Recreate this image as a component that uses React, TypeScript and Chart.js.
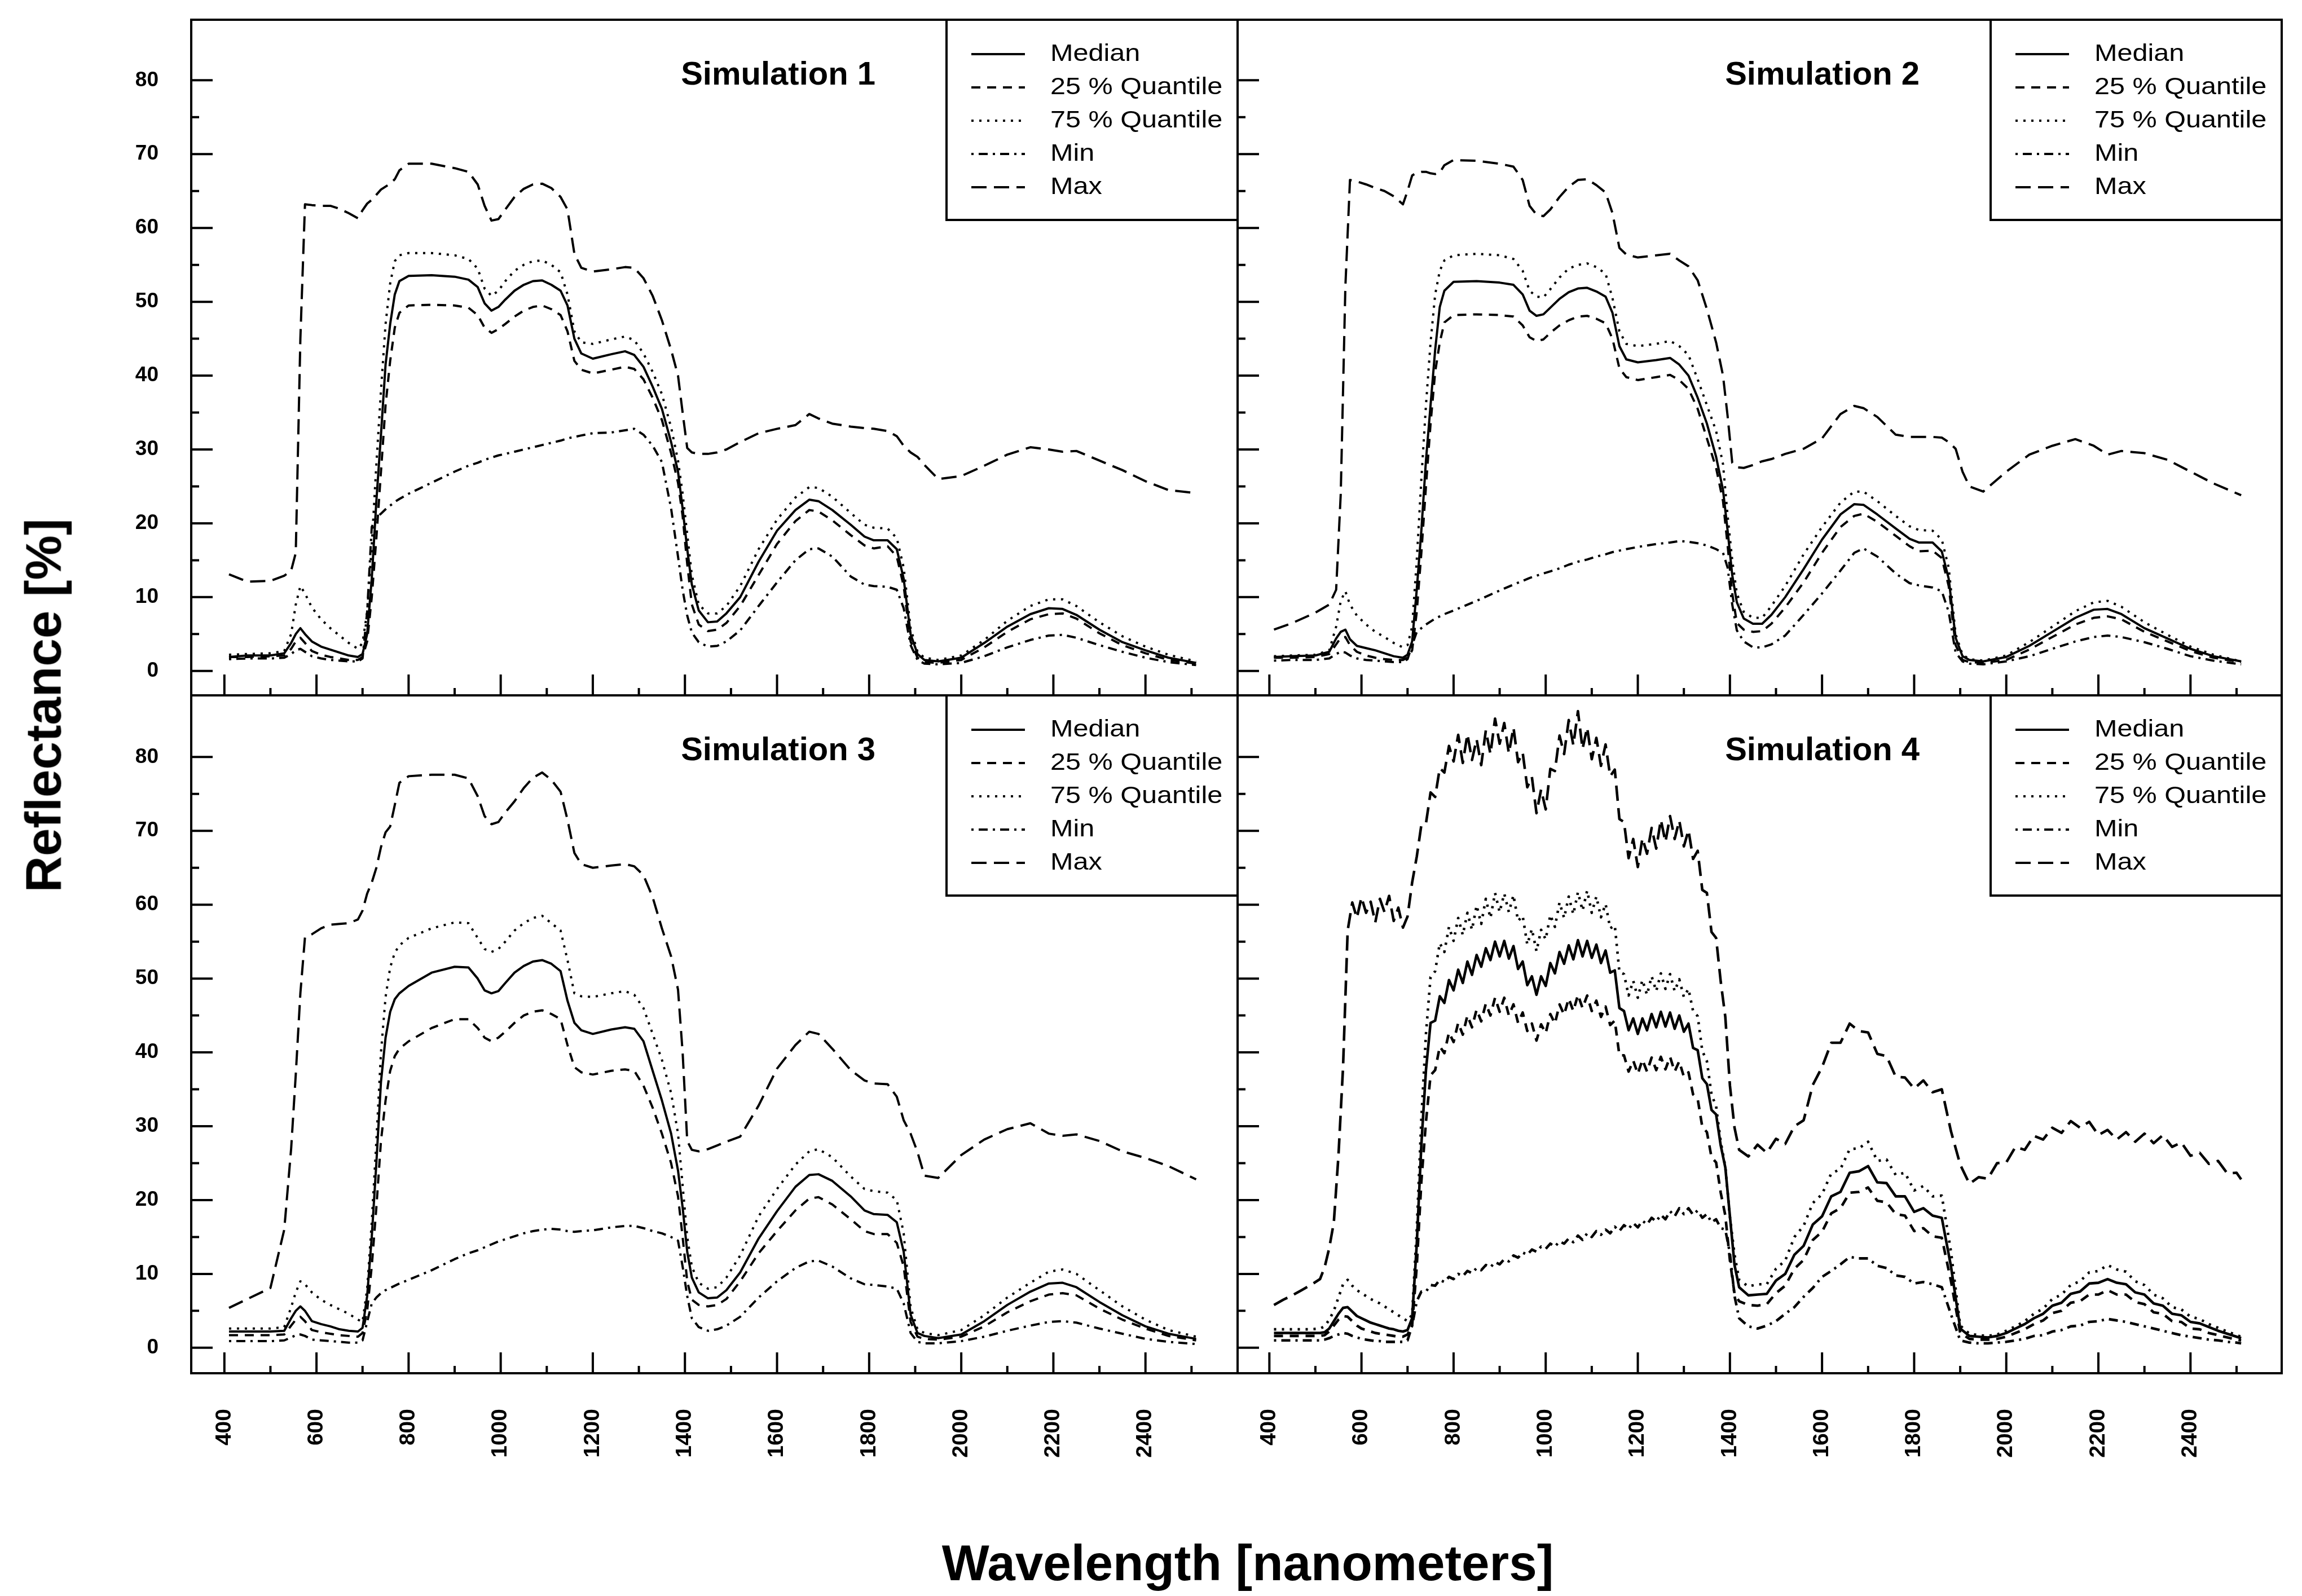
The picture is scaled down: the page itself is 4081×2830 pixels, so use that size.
import { useEffect, useRef } from 'react';
import { Chart, registerables } from 'chart.js';

Chart.register(...registerables);

const FONT = "'Liberation Sans', Arial, Helvetica, sans-serif";

// wavelengths [nm] of simulations 1-3
const wl = [
  410, 450, 500, 530, 545, 555, 565, 575, 590, 610,
  630, 650, 670, 690, 700, 710, 720, 730, 740, 750,
  760, 770, 780, 800, 850, 900, 930, 950, 965, 980,
  995, 1010, 1030, 1050, 1070, 1090, 1110, 1130, 1145, 1160,
  1175, 1200, 1240, 1270, 1290, 1310, 1330, 1350, 1370, 1385,
  1395, 1405, 1415, 1430, 1450, 1470, 1490, 1520, 1560, 1600,
  1640, 1670, 1690, 1720, 1760, 1790, 1810, 1840, 1860, 1875,
  1890, 1905, 1920, 1950, 2000, 2050, 2100, 2150, 2190, 2220,
  2250, 2300, 2350, 2400, 2450, 2510,
];

const wl4 = [
  410, 430, 450, 470, 490, 510,
  520, 530, 540, 550, 560, 570, 580, 590, 600, 610,
  620, 630, 640, 650, 660, 670, 680, 690, 700, 710,
  720, 730, 740, 750, 760, 770, 780, 790, 800, 810,
  820, 830, 840, 850, 860, 870, 880, 890, 900, 910,
  920, 930, 940, 950, 960, 970, 980, 990, 1000, 1010,
  1020, 1030, 1040, 1050, 1060, 1070, 1080, 1090, 1100, 1110,
  1120, 1130, 1140, 1150, 1160, 1170, 1180, 1190, 1200, 1210,
  1220, 1230, 1240, 1250, 1260, 1270, 1280, 1290, 1300, 1310,
  1320, 1330, 1340, 1350, 1360, 1370, 1380, 1390, 1400, 1410,
  1420,
  1440, 1460, 1480, 1500, 1520, 1540, 1560, 1580, 1600, 1620,
  1640, 1660, 1680, 1700, 1720, 1740, 1760, 1780, 1800, 1820,
  1840, 1860, 1880, 1900, 1920, 1940, 1960, 1980, 2000, 2020,
  2040, 2060, 2080, 2100, 2120, 2140, 2160, 2180, 2200, 2220,
  2240, 2260, 2280, 2300, 2320, 2340, 2360, 2380, 2400, 2420,
  2440, 2460, 2480, 2500, 2510,
];

// ---- Simulation 1 ----
const sim1Median = [
  1.9, 2.1, 2.1, 2.4, 3.8, 5.0, 5.8, 5.0, 4.0, 3.3,
  2.9, 2.5, 2.1, 1.9, 2.3, 5.0, 12.5, 23.0, 32.0, 41.5,
  47.0, 51.0, 52.8, 53.5, 53.6, 53.4, 53.0, 52.0, 49.8, 48.8,
  49.3, 50.3, 51.5, 52.3, 52.8, 52.9, 52.3, 51.5, 49.5, 45.0,
  43.0, 42.3, 42.9, 43.3, 42.8, 41.2, 38.5, 35.5, 31.0, 27.0,
  22.0, 16.5, 11.7, 8.2, 6.6, 6.7, 7.8, 10.0, 14.8, 19.0,
  21.8, 23.2, 23.0, 21.8, 19.8, 18.2, 17.7, 17.7, 16.5, 12.5,
  5.0, 2.3, 1.5, 1.3, 1.8, 3.8, 6.0, 7.7, 8.5, 8.4,
  7.6, 5.6, 3.9, 2.8, 1.8, 1.1,
];
const sim1Q25 = [
  1.9, 1.9, 2.0, 2.1, 3.0, 4.0, 4.5, 3.8, 2.7, 2.2,
  1.9, 1.7, 1.5, 1.5, 1.9, 4.0, 10.0, 18.0, 27.0, 36.0,
  42.0, 46.5, 48.5, 49.5, 49.6, 49.5, 49.2, 48.2, 46.5, 45.8,
  46.3, 47.0, 48.0, 48.8, 49.3, 49.5, 49.0, 48.2, 46.0, 42.0,
  40.8, 40.3, 40.8, 41.2, 40.9, 39.5, 37.0, 34.0, 29.5, 25.5,
  21.0, 14.5, 9.0, 6.3, 5.4, 5.6, 6.5, 8.8, 13.0, 17.2,
  20.3, 21.8, 21.6, 20.4, 18.4, 17.0, 16.6, 16.9, 15.5, 11.5,
  4.0, 1.8, 1.2, 1.1, 1.5, 3.2, 5.3, 7.0, 7.7, 7.8,
  7.1, 5.1, 3.5, 2.4, 1.5, 1.0,
];
const sim1Q75 = [
  2.2, 2.3, 2.4, 2.7, 5.0, 9.0, 11.5, 10.5, 8.6, 7.0,
  5.8, 4.8, 3.8, 3.0, 3.8, 8.0, 17.0, 28.0, 38.0, 47.0,
  52.5, 55.5, 56.3, 56.6, 56.6, 56.3, 55.8, 54.5, 51.8, 50.8,
  51.5, 52.8, 54.2, 55.0, 55.5, 55.6, 55.0, 54.0, 51.0, 46.0,
  44.5, 44.3, 44.9, 45.3, 44.8, 43.0, 40.5, 37.5, 33.0, 28.5,
  24.0, 18.5, 13.0, 9.0, 7.8, 7.8, 8.8, 11.5, 16.5, 20.5,
  23.5, 24.9, 24.8, 23.6, 21.4, 19.8, 19.4, 19.3, 18.0, 14.0,
  5.8, 2.6, 1.8, 1.5, 2.1, 4.2, 6.8, 8.8, 9.7, 9.7,
  8.8, 6.6, 4.7, 3.3, 2.2, 1.3,
];
const sim1Min = [
  1.6, 1.7, 1.7, 1.8, 2.3, 2.8, 3.0, 2.6, 2.0, 1.7,
  1.5, 1.4, 1.3, 1.3, 1.7, 8.0, 19.5, 20.8, 21.3, 21.9,
  22.4, 22.9, 23.3, 24.0, 25.5, 27.0, 27.8, 28.2, 28.6, 28.9,
  29.2, 29.4, 29.7, 30.0, 30.3, 30.6, 30.9, 31.2, 31.5, 31.7,
  31.9, 32.2, 32.3, 32.6, 32.8, 32.0, 30.5, 28.3, 22.0, 15.5,
  11.0, 7.5, 5.2, 3.9, 3.3, 3.4, 4.0, 5.5, 8.8, 12.0,
  15.0, 16.5, 16.6, 15.5, 12.8, 11.7, 11.5, 11.4, 11.0, 8.5,
  3.5, 1.5, 1.0, 0.9, 1.1, 2.0, 3.2, 4.2, 4.8, 4.9,
  4.5, 3.5, 2.6, 1.8, 1.2, 0.8,
];
const sim1Max = [
  13.1, 12.1, 12.2, 12.9, 13.6, 16.0, 45.0, 63.2, 63.1, 63.0,
  63.0, 62.6, 62.0, 61.3, 62.4, 63.3, 63.8, 64.5, 65.2, 65.6,
  66.0, 66.6, 67.8, 68.7, 68.7, 68.1, 67.6, 65.9, 63.0, 61.0,
  61.2, 62.5, 64.2, 65.3, 65.9, 66.0, 65.4, 64.2, 62.5, 56.5,
  54.6, 54.1, 54.4, 54.7, 54.6, 53.2, 50.8, 47.5, 43.5, 40.0,
  35.0, 30.2, 29.6, 29.4, 29.4, 29.6, 30.0, 31.0, 32.2, 32.8,
  33.3, 34.8, 34.2, 33.5, 33.1, 32.9, 32.8, 32.5, 31.8, 30.5,
  29.6, 29.0, 27.9, 26.0, 26.4, 27.8, 29.3, 30.3, 30.0, 29.7,
  29.8, 28.5, 27.2, 25.7, 24.5, 24.1,
];

// ---- Simulation 2 ----
const sim2Median = [
  1.9, 2.0, 2.1, 2.6, 4.4, 5.3, 5.6, 4.3, 3.4, 3.1,
  2.8, 2.4, 2.0, 1.8, 2.2, 4.0, 11.0, 19.0, 28.5, 36.0,
  43.5, 49.3, 51.5, 52.7, 52.8, 52.6, 52.3, 51.0, 48.8, 48.1,
  48.3, 49.2, 50.4, 51.3, 51.8, 51.9, 51.4, 50.7, 48.5, 44.0,
  42.2, 41.8, 42.1, 42.4, 41.5, 40.0, 37.0, 33.5, 29.0, 24.5,
  19.0, 13.0, 9.3, 7.1, 6.4, 6.4, 7.6, 10.0, 13.8, 17.8,
  21.2, 22.6, 22.5, 21.2, 19.3, 17.9, 17.4, 17.4, 16.2, 12.5,
  4.5, 2.0, 1.5, 1.3, 1.9, 3.4, 5.3, 7.2, 8.3, 8.4,
  7.7, 5.8, 4.4, 3.0, 2.0, 1.3,
];
const sim2Q25 = [
  1.8, 1.8, 1.9, 2.3, 3.6, 4.5, 4.6, 3.5, 2.6, 2.1,
  1.8, 1.6, 1.5, 1.5, 1.8, 2.8, 8.0, 16.0, 25.0, 33.5,
  40.5, 44.5, 47.2, 48.2, 48.3, 48.2, 48.0, 46.8, 45.2, 44.7,
  44.9, 45.8, 46.8, 47.5, 48.0, 48.1, 47.7, 47.1, 45.0, 41.0,
  39.8, 39.4, 39.8, 40.1, 39.4, 38.2, 35.5, 31.5, 27.5, 23.0,
  17.0, 10.5, 6.5, 5.6, 5.3, 5.4, 6.4, 8.6, 12.0, 16.0,
  19.5, 21.0, 21.3, 20.2, 18.3, 16.9, 16.2, 16.3, 15.3, 11.5,
  3.5, 1.5, 1.2, 1.1, 1.5, 2.9, 4.6, 6.3, 7.2, 7.4,
  7.0, 5.3, 4.0, 2.7, 1.8, 1.2,
];
const sim2Q75 = [
  2.0, 2.1, 2.2, 2.8, 6.0, 9.5, 10.8, 9.0, 7.5, 6.3,
  5.3, 4.6, 3.8, 3.2, 3.5, 6.0, 15.0, 26.0, 36.0, 44.5,
  51.0, 54.2, 55.6, 56.3, 56.5, 56.3, 55.8, 54.2, 51.5, 50.7,
  50.6, 51.7, 53.3, 54.5, 55.0, 55.2, 54.7, 53.8, 50.5, 46.0,
  44.3, 44.0, 44.3, 44.7, 44.0, 42.8, 39.5, 36.0, 32.5, 28.0,
  21.0, 15.0, 10.5, 8.0, 7.2, 7.2, 8.8, 11.5, 15.8, 19.5,
  22.8, 24.3, 24.3, 23.0, 21.0, 19.6, 19.1, 19.0, 17.8, 14.0,
  5.0, 2.2, 1.6, 1.4, 2.1, 3.9, 6.0, 8.1, 9.3, 9.5,
  8.7, 6.6, 4.9, 3.3, 2.2, 1.3,
];
const sim2Min = [
  1.4, 1.5, 1.5, 1.7, 2.3, 2.6, 2.5, 2.1, 1.7, 1.5,
  1.4, 1.3, 1.2, 1.2, 1.6, 3.5, 5.3, 5.8, 6.3, 6.7,
  7.1, 7.4, 7.7, 8.2, 9.5, 10.9, 11.7, 12.2, 12.6, 12.9,
  13.2, 13.5, 13.9, 14.4, 14.8, 15.1, 15.5, 15.8, 16.1, 16.3,
  16.5, 16.8, 17.2, 17.4, 17.6, 17.5, 17.3, 17.0, 16.5, 16.0,
  14.0, 9.0, 5.5, 4.0, 3.2, 3.2, 3.6, 4.8, 7.6, 10.5,
  13.6, 16.0, 16.6, 15.5, 13.2, 11.9, 11.6, 11.3, 10.8, 8.0,
  2.5, 1.3, 1.0, 0.9, 1.3, 2.0, 3.0, 4.0, 4.6, 4.8,
  4.6, 3.9, 3.0, 2.0, 1.4, 0.9,
];
const sim2Max = [
  5.6, 6.5, 7.9, 9.0, 11.0, 24.0, 52.0, 66.5, 66.3, 65.9,
  65.4, 65.0, 64.3, 63.2, 65.0, 67.1, 67.5, 67.6, 67.6, 67.4,
  67.3, 67.5, 68.5, 69.2, 69.1, 68.7, 68.3, 66.5, 63.0, 61.8,
  61.6, 62.5, 64.2, 65.6, 66.5, 66.6, 65.8, 64.8, 62.0, 57.3,
  56.4, 56.0, 56.3, 56.5, 55.6, 54.8, 52.9, 49.0, 44.5, 40.0,
  34.5, 28.2, 27.6, 27.5, 27.9, 28.4, 28.7, 29.4, 30.1, 31.5,
  34.8, 35.9, 35.6, 34.4, 32.0, 31.7, 31.7, 31.7, 31.6, 31.0,
  30.1, 27.0, 25.0, 24.3, 27.0, 29.3, 30.5, 31.4, 30.5, 29.3,
  29.8, 29.5, 28.6, 27.0, 25.4, 23.8,
];

// ---- Simulation 3 ----
const sim3Median = [
  2.2, 2.2, 2.2, 2.3, 4.0, 5.0, 5.6, 5.0, 3.6, 3.2,
  2.9, 2.5, 2.3, 2.2, 2.7, 7.0, 15.0, 25.0, 36.0, 42.0,
  45.5, 47.2, 48.0, 49.0, 50.8, 51.6, 51.5, 50.0, 48.4, 48.0,
  48.3, 49.4, 50.8, 51.7, 52.3, 52.5, 52.0, 51.0, 47.0, 44.0,
  43.0, 42.5, 43.1, 43.4, 43.2, 41.5, 37.5, 33.5, 29.0, 24.0,
  19.0, 13.0, 9.5, 7.5, 6.7, 6.8, 7.8, 10.2, 14.8, 18.5,
  21.8, 23.4, 23.5, 22.6, 20.5, 18.6, 18.1, 18.0, 17.0, 13.0,
  4.5, 2.0, 1.6, 1.3, 1.8, 3.6, 5.8, 7.6, 8.7, 8.8,
  8.2, 6.2, 4.4, 2.9, 1.9, 1.2,
];
const sim3Q25 = [
  1.7, 1.7, 1.7, 1.8, 3.0, 3.8, 4.2, 3.6, 2.4, 2.1,
  1.9, 1.7, 1.6, 1.5, 2.0, 5.0, 11.0, 19.0, 28.0, 33.5,
  37.5, 39.5, 40.5, 41.5, 43.3, 44.5, 44.5, 43.3, 42.0, 41.5,
  42.0, 42.8, 44.0, 45.0, 45.5, 45.7, 45.2, 44.5, 41.0, 38.0,
  37.3, 37.0, 37.5, 37.7, 37.5, 35.5, 32.5, 29.0, 25.0, 20.5,
  15.0, 9.0, 6.5, 5.8, 5.6, 5.8, 6.6, 9.0, 12.8, 15.8,
  18.6, 20.2, 20.4, 19.4, 17.4, 15.8, 15.4, 15.4, 14.2, 11.0,
  3.5, 1.5, 1.2, 1.1, 1.5, 2.9, 4.8, 6.3, 7.2, 7.4,
  7.1, 5.3, 3.8, 2.6, 1.6, 1.0,
];
const sim3Q75 = [
  2.6, 2.6, 2.6, 2.8, 5.5, 7.5, 9.0, 8.6, 7.5, 6.5,
  5.8, 5.2, 4.6, 3.8, 3.5, 8.0, 17.0, 28.0, 40.0, 47.5,
  51.5, 53.5, 54.5, 55.5, 56.8, 57.6, 57.5, 55.5, 54.0, 53.6,
  54.0, 55.0, 56.5, 57.5, 58.2, 58.5, 57.5, 56.5, 52.5, 48.0,
  47.6, 47.5, 48.0, 48.3, 47.8, 46.0, 42.5, 39.0, 34.5, 29.0,
  22.0, 15.0, 11.0, 8.8, 8.0, 8.2, 9.5, 12.5, 17.8, 21.5,
  24.8, 26.6, 26.9, 25.8, 23.2, 21.5, 21.2, 21.0, 20.0, 15.5,
  5.5, 2.5, 2.0, 1.7, 2.4, 4.4, 6.8, 8.8, 10.3, 10.6,
  10.0, 7.8, 5.6, 3.8, 2.4, 1.5,
];
const sim3Min = [
  0.9, 0.9, 0.9, 1.0, 1.4, 1.7, 1.8, 1.6, 1.1, 1.0,
  0.9, 0.8, 0.7, 0.7, 1.0, 3.5, 6.0, 6.8, 7.4, 7.8,
  8.1, 8.4, 8.7, 9.2, 10.5, 12.0, 12.8, 13.2, 13.6, 14.0,
  14.4, 14.7, 15.1, 15.5, 15.8, 16.0, 16.1, 16.0, 15.8, 15.7,
  15.8, 15.9, 16.3, 16.5, 16.5, 16.2, 15.8, 15.5, 15.0, 14.5,
  11.0, 7.0, 4.0, 2.8, 2.3, 2.5, 3.0, 4.2, 6.8, 9.0,
  10.8, 11.7, 11.8, 11.0, 9.4, 8.6, 8.5, 8.3, 8.0, 6.0,
  2.0, 0.8, 0.6, 0.6, 0.9, 1.5, 2.3, 3.0, 3.5, 3.6,
  3.4, 2.6, 1.9, 1.2, 0.8, 0.5,
];
const sim3Max = [
  5.4, 6.6, 8.1, 16.0, 27.0, 37.0, 48.0, 55.6, 56.0, 56.8,
  57.3, 57.4, 57.5, 58.0, 59.2, 61.5, 63.0, 65.0, 67.8, 69.8,
  70.6, 73.5, 76.5, 77.4, 77.6, 77.6, 77.1, 74.7, 72.0, 70.9,
  71.2, 72.5, 74.0, 75.8, 77.2, 77.9, 76.9, 75.3, 71.5, 67.0,
  65.5, 65.0, 65.3, 65.5, 65.2, 64.0, 61.0, 56.8, 53.0, 48.5,
  40.0, 28.0, 26.8, 26.6, 26.9, 27.4, 27.9, 28.6, 32.8, 37.8,
  41.0, 42.8, 42.5, 40.5, 37.6, 36.2, 35.8, 35.7, 34.0, 30.8,
  29.0, 26.5, 23.3, 23.0, 26.1, 28.2, 29.6, 30.4, 29.0, 28.7,
  28.9, 28.0, 26.6, 25.7, 24.6, 22.8,
];

// ---- Simulation 4 (noisy) ----
const sim4Median = [
  2.0, 2.0, 2.0, 2.0, 2.0, 2.0,
  2.1, 2.6, 3.6, 4.6, 5.4, 5.5, 4.9, 4.3, 4.0, 3.7,
  3.4, 3.2, 3.0, 2.8, 2.6, 2.5, 2.3, 2.2, 2.4, 4.0,
  14.0, 27.5, 37.6, 44.0, 44.3, 47.6, 46.7, 49.8, 48.4, 51.2,
  49.4, 52.3, 50.5, 53.2, 51.6, 54.1, 52.5, 55.0, 53.0, 55.1,
  52.7, 54.4, 51.3, 52.3, 49.1, 50.3, 47.8, 50.3, 49.0, 52.1,
  50.7, 53.6, 52.0, 54.5, 52.6, 55.2, 53.0, 55.1, 52.8, 54.6,
  52.1, 53.8, 50.8, 51.1, 46.0, 45.6, 43.0, 44.6, 42.5, 44.6,
  43.0, 45.2, 43.4, 45.5, 43.5, 45.4, 43.2, 45.0, 42.8, 43.9,
  40.6, 40.3, 36.5, 35.7, 32.2, 31.6, 27.4, 24.4, 17.8, 11.2,
  8.2,
  7.1, 7.2, 7.3, 9.1, 10.0, 12.6, 13.8, 16.7, 17.8, 20.5,
  21.1, 23.7, 23.9, 24.6, 22.4, 22.3, 20.5, 20.5, 18.4, 18.9,
  17.9, 17.6, 11.0, 2.6, 1.6, 1.5, 1.4, 1.6, 2.0, 2.6,
  3.2, 4.0, 4.6, 5.7, 6.1, 7.3, 7.6, 8.7, 8.8, 9.3,
  8.8, 8.6, 7.5, 7.2, 6.0, 5.7, 4.6, 4.4, 3.5, 3.3,
  2.8, 2.3, 1.9, 1.5, 1.3,
];
const sim4Q25 = [
  1.6, 1.6, 1.6, 1.6, 1.6, 1.6,
  1.7, 2.2, 3.0, 3.8, 4.3, 4.2, 3.6, 3.0, 2.6, 2.4,
  2.2, 2.0, 1.9, 1.8, 1.7, 1.6, 1.5, 1.5, 1.8, 3.0,
  11.0, 22.5, 30.6, 36.9, 37.6, 40.8, 39.9, 42.7, 41.4, 44.0,
  42.4, 45.0, 43.4, 45.8, 44.2, 46.6, 45.0, 47.4, 45.5, 47.4,
  45.0, 46.5, 44.0, 45.4, 42.9, 43.9, 41.6, 43.8, 42.6, 45.2,
  43.9, 46.5, 45.1, 47.3, 45.6, 47.8, 46.0, 47.7, 45.6, 47.0,
  44.8, 46.2, 43.7, 44.3, 39.6, 39.6, 37.4, 38.9, 37.1, 39.0,
  37.4, 39.3, 37.6, 39.4, 37.7, 39.4, 37.4, 38.8, 36.7, 37.3,
  34.3, 33.7, 29.9, 29.2, 25.8, 25.1, 21.0, 17.9, 11.8, 7.3,
  6.3,
  5.8, 5.7, 5.9, 7.4, 8.4, 10.7, 11.9, 14.6, 15.7, 18.2,
  18.9, 21.0, 21.1, 21.7, 19.9, 19.7, 18.1, 17.9, 15.8, 16.2,
  15.1, 14.9, 9.0, 2.0, 1.2, 1.1, 1.1, 1.2, 1.5, 2.0,
  2.5, 3.2, 3.7, 4.7, 5.0, 6.1, 6.3, 7.2, 7.2, 7.8,
  7.2, 7.2, 6.2, 5.9, 4.8, 4.6, 3.6, 3.5, 2.6, 2.5,
  2.0, 1.7, 1.4, 1.1, 1.0,
];
const sim4Q75 = [
  2.5, 2.5, 2.5, 2.5, 2.5, 2.6,
  2.9, 3.8, 5.0, 6.8, 8.6, 9.2, 8.4, 7.8, 7.4, 7.0,
  6.6, 6.3, 6.0, 5.6, 5.2, 4.8, 4.4, 4.0, 3.6, 4.5,
  16.0, 31.0, 42.5, 50.2, 51.0, 54.8, 53.6, 57.0, 55.1, 58.2,
  55.9, 58.9, 56.6, 59.9, 57.4, 60.8, 58.2, 61.6, 59.0, 61.5,
  59.0, 61.3, 57.8, 58.5, 54.6, 56.7, 53.7, 56.6, 55.3, 58.6,
  57.0, 60.3, 58.2, 61.1, 58.7, 61.7, 59.2, 61.9, 58.9, 61.1,
  58.3, 60.1, 56.8, 57.2, 50.9, 50.6, 47.7, 49.7, 47.4, 49.8,
  47.8, 50.3, 48.3, 50.7, 48.6, 50.6, 48.3, 49.9, 47.5, 48.6,
  45.6, 44.9, 40.2, 38.8, 34.3, 32.7, 27.9, 24.5, 17.7, 12.6,
  9.2,
  8.3, 8.6, 8.6, 10.7, 11.8, 15.0, 16.5, 19.6, 20.8, 23.6,
  24.2, 26.9, 27.0, 27.9, 25.3, 25.5, 23.4, 23.7, 21.3, 21.9,
  20.5, 20.6, 13.0, 3.0, 1.9, 1.7, 1.6, 1.8, 2.3, 2.9,
  3.6, 4.6, 5.3, 6.6, 7.2, 8.5, 9.0, 10.2, 10.4, 11.2,
  10.6, 10.3, 9.0, 8.5, 7.2, 6.7, 5.5, 5.2, 4.2, 3.9,
  3.2, 2.7, 2.2, 1.7, 1.5,
];
const sim4Min = [
  1.0, 1.0, 1.0, 1.0, 1.0, 1.0,
  1.1, 1.3, 1.6, 1.8, 2.0, 1.9, 1.6, 1.4, 1.2, 1.1,
  1.0, 0.9, 0.9, 0.8, 0.8, 0.8, 0.8, 0.8, 1.0, 3.0,
  6.3, 7.6, 7.6, 8.5, 8.4, 9.2, 8.9, 9.6, 9.3, 10.0,
  9.7, 10.4, 10.1, 10.8, 10.5, 11.2, 10.9, 11.6, 11.3, 12.0,
  11.7, 12.5, 12.2, 12.9, 12.6, 13.3, 13.0, 13.7, 13.4, 14.1,
  13.7, 14.4, 14.1, 14.8, 14.3, 15.2, 14.6, 15.5, 15.0, 15.8,
  15.3, 16.0, 15.5, 16.4, 15.8, 16.6, 16.1, 16.9, 16.3, 17.2,
  16.7, 17.6, 17.1, 18.0, 17.4, 18.5, 17.8, 18.9, 18.1, 18.9,
  18.0, 18.6, 17.6, 18.1, 17.0, 17.4, 16.2, 16.0, 12.8, 7.0,
  4.0,
  2.9, 2.6, 3.0, 3.6, 4.6, 5.5, 6.9, 8.1, 9.6, 10.4,
  11.3, 12.3, 12.1, 12.1, 11.1, 10.8, 9.8, 9.6, 8.7, 8.9,
  8.6, 8.2, 4.5, 1.0, 0.7, 0.6, 0.6, 0.7, 0.8, 1.0,
  1.2, 1.6, 1.7, 2.2, 2.4, 2.9, 3.0, 3.5, 3.6, 3.9,
  3.7, 3.5, 3.2, 2.9, 2.6, 2.3, 2.0, 1.7, 1.5, 1.3,
  1.1, 1.0, 0.8, 0.7, 0.6,
];
const sim4Max = [
  5.8, 6.5, 7.1, 7.8, 8.5, 9.3,
  10.9, 13.5, 17.0, 26.0, 38.0, 56.5, 60.3, 58.2, 61.0, 58.9,
  60.4, 57.6, 60.8, 59.0, 61.2, 57.8, 59.6, 56.9, 58.4, 63.0,
  66.5, 70.8, 71.0, 75.2, 74.6, 78.5, 77.9, 81.5, 79.4, 83.0,
  79.2, 83.1, 79.6, 82.4, 78.9, 83.6, 80.4, 85.2, 81.8, 84.6,
  80.5, 84.0, 79.3, 80.6, 75.9, 77.3, 72.4, 75.6, 72.9, 78.4,
  78.1, 82.9, 80.4, 85.0, 81.6, 86.2, 81.1, 84.0, 79.7, 82.6,
  78.8, 81.7, 77.4, 78.3, 71.6, 71.2, 66.3, 68.9, 65.1, 69.0,
  66.9, 70.4, 67.6, 71.5, 68.5, 72.0, 68.9, 71.4, 67.9, 70.1,
  66.2, 67.3, 62.0, 61.6, 56.3, 55.5, 49.6, 44.8, 35.5, 29.8,
  26.8,
  25.9, 27.5, 26.4, 28.3, 27.6, 30.0, 30.8, 35.6, 38.0, 41.3,
  41.3, 43.9, 42.9, 42.7, 39.8, 39.5, 36.7, 36.6, 35.1, 36.2,
  34.6, 35.0, 29.3, 24.8, 22.2, 23.1, 22.9, 25.0, 25.1, 27.2,
  26.8, 28.7, 28.2, 29.8, 29.1, 30.7, 29.8, 30.6, 28.8, 29.5,
  28.2, 29.2, 27.9, 29.0, 27.7, 28.8, 27.2, 27.8, 26.0, 26.4,
  24.9, 25.3, 23.6, 23.7, 22.8,
];

const seriesNames = ['Median', '25 % Quantile', '75 % Quantile', 'Min', 'Max'];

const xLabelTicks = [400, 600, 800, 1000, 1200, 1400, 1600, 1800, 2000, 2200, 2400];
const xMinorTicks = [500, 700, 900, 1100, 1300, 1500, 1700, 1900, 2100, 2300, 2500];
const yLabelTicks = [0, 10, 20, 30, 40, 50, 60, 70, 80];
const yMinorTicks = [5, 15, 25, 35, 45, 55, 65, 75];

// line styles, same order as seriesNames
const seriesDash = [[], [16, 12], [4, 10], [4, 9, 16, 9], [27, 13]];

const panels = [
  {
    title: 'Simulation 1', x: wl, series: [sim1Median, sim1Q25, sim1Q75, sim1Min, sim1Max],
    left: 0, top: 0, width: 2254, height: 1293,
    padding: { left: 0, top: 35, right: 60, bottom: 60 },
    yWidth: 339, xHeight: 0, showX: false, showY: true, lineWidth: 4,
    xMin: 328, xMax: 2600, yMin: -3.3, yMax: 88.2,
  },
  {
    title: 'Simulation 2', x: wl, series: [sim2Median, sim2Q25, sim2Q75, sim2Min, sim2Max],
    left: 2134, top: 0, width: 1947, height: 1293,
    padding: { left: 60, top: 35, right: 36, bottom: 60 },
    yWidth: 0, xHeight: 0, showX: false, showY: false, lineWidth: 4,
    xMin: 331, xMax: 2598, yMin: -3.3, yMax: 88.2,
  },
  {
    title: 'Simulation 3', x: wl, series: [sim3Median, sim3Q25, sim3Q75, sim3Min, sim3Max],
    left: 0, top: 1173, width: 2254, height: 1657,
    padding: { left: 0, top: 60, right: 60, bottom: 0 },
    yWidth: 339, xHeight: 395, showX: true, showY: true, lineWidth: 4,
    xMin: 328, xMax: 2600, yMin: -3.45, yMax: 88.35,
  },
  {
    title: 'Simulation 4', x: wl4, series: [sim4Median, sim4Q25, sim4Q75, sim4Min, sim4Max],
    left: 2134, top: 1173, width: 1947, height: 1657,
    padding: { left: 60, top: 60, right: 36, bottom: 0 },
    yWidth: 0, xHeight: 395, showX: true, showY: false, lineWidth: 4.6,
    xMin: 331, xMax: 2598, yMin: -3.45, yMax: 88.35,
  },
];

// frame, inward ticks, legend box and panel title
const decorPlugin = {
  id: 'panelDecor',
  afterDatasetsDraw(chart, _args, opts) {
    const { ctx, chartArea: a } = chart;
    const xs = chart.scales.x;
    const ys = chart.scales.y;
    ctx.save();
    ctx.strokeStyle = '#000';
    ctx.lineWidth = 4;
    ctx.setLineDash([]);

    ctx.beginPath();
    xLabelTicks.forEach((v) => {
      const p = xs.getPixelForValue(v);
      ctx.moveTo(p, a.bottom);
      ctx.lineTo(p, a.bottom - 37);
    });
    xMinorTicks.forEach((v) => {
      const p = xs.getPixelForValue(v);
      ctx.moveTo(p, a.bottom);
      ctx.lineTo(p, a.bottom - 13);
    });
    yLabelTicks.forEach((v) => {
      const p = ys.getPixelForValue(v);
      ctx.moveTo(a.left, p);
      ctx.lineTo(a.left + 38, p);
    });
    yMinorTicks.forEach((v) => {
      const p = ys.getPixelForValue(v);
      ctx.moveTo(a.left, p);
      ctx.lineTo(a.left + 14, p);
    });
    ctx.stroke();
    ctx.strokeRect(a.left, a.top, a.right - a.left, a.bottom - a.top);

    const bw = 516;
    const bh = 355;
    const bx = a.right - bw;
    const by = a.top;
    ctx.fillStyle = '#fff';
    ctx.fillRect(bx, by, bw, bh);
    ctx.strokeRect(bx, by, bw, bh);

    chart.data.datasets.forEach((ds, i) => {
      const y = by + 61 + i * 59;
      ctx.save();
      ctx.lineWidth = 4;
      ctx.setLineDash(seriesDash[i]);
      ctx.beginPath();
      ctx.moveTo(bx + 44, y);
      ctx.lineTo(bx + 139, y);
      ctx.stroke();
      ctx.restore();

      ctx.save();
      ctx.fillStyle = '#000';
      ctx.font = `43px ${FONT}`;
      ctx.textAlign = 'left';
      ctx.textBaseline = 'middle';
      ctx.translate(bx + 184, y);
      ctx.scale(1.13, 1);
      ctx.fillText(ds.label, 0, 0);
      ctx.restore();
    });

    ctx.fillStyle = '#000';
    ctx.font = `bold 58px ${FONT}`;
    ctx.textAlign = 'right';
    ctx.textBaseline = 'middle';
    ctx.fillText(opts.title, bx - 126, a.top + 99);
    ctx.restore();
  },
};

function Panel({ p }) {
  const canvasRef = useRef(null);

  useEffect(() => {
    const chart = new Chart(canvasRef.current, {
      type: 'line',
      data: {
        datasets: p.series.map((values, i) => ({
          label: seriesNames[i],
          data: p.x.map((x, k) => ({ x, y: values[k] })),
          borderColor: '#000',
          borderWidth: p.lineWidth,
          borderDash: seriesDash[i],
          borderJoinStyle: 'round',
          pointRadius: 0,
          fill: false,
          tension: 0,
        })),
      },
      options: {
        animation: false,
        responsive: false,
        maintainAspectRatio: false,
        devicePixelRatio: 1,
        events: [],
        layout: { padding: p.padding },
        plugins: {
          legend: { display: false },
          tooltip: { enabled: false },
          panelDecor: { title: p.title },
        },
        scales: {
          x: {
            type: 'linear',
            min: p.xMin,
            max: p.xMax,
            afterBuildTicks: (s) => { s.ticks = xLabelTicks.map((value) => ({ value })); },
            afterFit: (s) => { s.height = p.xHeight; },
            border: { display: false },
            grid: {
              display: p.showX,
              drawOnChartArea: false,
              drawTicks: p.showX,
              tickLength: 56,
              tickColor: 'rgba(0,0,0,0)',
            },
            ticks: {
              display: p.showX,
              autoSkip: false,
              minRotation: 90,
              maxRotation: 90,
              padding: 7,
              color: '#000',
              font: { family: FONT, size: 39, weight: 'bold' },
              callback: (v) => String(v),
            },
          },
          y: {
            type: 'linear',
            min: p.yMin,
            max: p.yMax,
            afterBuildTicks: (s) => { s.ticks = yLabelTicks.map((value) => ({ value })); },
            afterFit: (s) => { s.width = p.yWidth; },
            border: { display: false },
            grid: {
              display: p.showY,
              drawOnChartArea: false,
              drawTicks: p.showY,
              tickLength: 52,
              tickColor: 'rgba(0,0,0,0)',
            },
            ticks: {
              display: p.showY,
              autoSkip: false,
              padding: 6,
              color: '#000',
              font: { family: FONT, size: 37, weight: 'bold' },
              callback: (v) => String(v),
            },
          },
        },
      },
      plugins: [decorPlugin],
    });
    return () => chart.destroy();
  }, [p]);

  return (
    <canvas
      ref={canvasRef}
      width={p.width}
      height={p.height}
      style={{ position: 'absolute', left: p.left, top: p.top, width: p.width, height: p.height }}
    />
  );
}

const titleStyle = {
  position: 'absolute',
  fontFamily: FONT,
  fontWeight: 'bold',
  fontSize: 89,
  lineHeight: 1,
  whiteSpace: 'nowrap',
  color: '#000',
};

export default function App() {
  return (
    <div style={{ position: 'absolute', left: 0, top: 0, width: 4081, height: 2830, background: '#fff', overflow: 'hidden' }}>
      {panels.map((p) => (
        <Panel key={p.title} p={p} />
      ))}
      <div style={{ ...titleStyle, left: 77, top: 1251, transform: 'translate(-50%, -50%) rotate(-90deg)' }}>
        Reflectance [%]
      </div>
      <div style={{ ...titleStyle, left: 2212, top: 2771, transform: 'translate(-50%, -50%)' }}>
        Wavelength [nanometers]
      </div>
    </div>
  );
}
